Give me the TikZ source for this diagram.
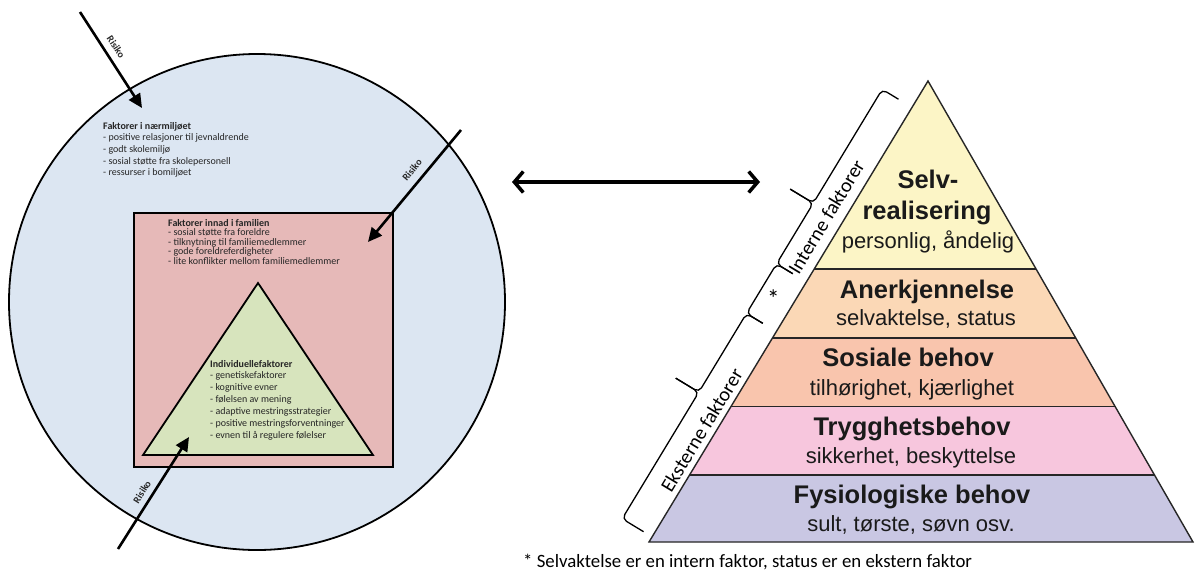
\documentclass[tikz,border=0pt]{standalone}
\usepackage{fontspec}
\setmainfont{Carlito}
\newfontfamily\arialf{Liberation Sans}
\usetikzlibrary{arrows.meta,calc}
\definecolor{circfill}{HTML}{DCE6F2}
\definecolor{boxfill}{HTML}{E6B9B8}
\definecolor{trifill}{HTML}{D7E4BD}
\definecolor{tierA}{HTML}{FCF5C6}
\definecolor{tierB}{HTML}{FBD8B6}
\definecolor{tierC}{HTML}{F9C5AD}
\definecolor{tierD}{HTML}{F7C6DD}
\definecolor{tierE}{HTML}{C9C7E3}
\definecolor{txt}{HTML}{262626}
\definecolor{pyrtxt}{HTML}{1A1A1A}
\tikzset{
  lt/.style={anchor=base west, inner sep=0pt, text=txt, font=\fontsize{10}{12}\selectfont},
  lth/.style={lt, font=\bfseries\fontsize{10}{12}\selectfont},
  riskarrow/.style={line width=2.6pt, -{Triangle[length=14pt,width=13pt]}},
  risklab/.style={inner sep=0pt, text=txt, font=\bfseries\fontsize{10}{12}\selectfont},
  pyrline/.style={draw=black!85, line width=1.4pt},
  pyrhead/.style={anchor=base, inner sep=0pt, text=pyrtxt, font=\arialf\bfseries\fontsize{25.5}{30}\selectfont},
  pyrsub/.style={anchor=base, inner sep=0pt, text=pyrtxt, font=\arialf\fontsize{22}{26}\selectfont},
  bracel/.style={line width=1.3pt, rounded corners=5pt},
  sidelab/.style={anchor=base, inner sep=0pt, font=\fontsize{20}{24}\selectfont},
}
\begin{document}
\begin{tikzpicture}[x=1pt,y=-1pt]
\useasboundingbox (0,0) rectangle (1195,574);
\fill[white] (0,0) rectangle (1195,574);

% ---------- left: protective factors ----------
\node[circle, draw=black, fill=circfill, line width=1.8pt, minimum size=496pt, inner sep=0pt] (env) at (257,302) {};
\node[draw=black, fill=boxfill, line width=1.8pt, minimum width=259pt, minimum height=254pt, anchor=north west, inner sep=0pt] (fam) at (133,212) {};
\coordinate (tA) at (258,283);
\coordinate (tL) at (143,455);
\coordinate (tR) at (373,455);
\draw[fill=trifill, line width=1.8pt, line join=miter] (tA) -- (tR) -- (tL) -- cycle;

% texts in the circle
\node[lth] (c1) at (103,129) {Faktorer i nærmiljøet};
\node[lt] (c2) at (103,140.7) {- positive relasjoner til jevnaldrende};
\node[lt] (c3) at (103,152.4) {- godt skolemiljø};
\node[lt] (c4) at (103,164.1) {- sosial støtte fra skolepersonell};
\node[lt] (c5) at (103,175.8) {- ressurser i bomiljøet};

\node[lth] (f1) at (168,226.3) {Faktorer innad i familien};
\node[lt] (f2) at (168,235.8) {- sosial støtte fra foreldre};
\node[lt] (f3) at (168,245.3) {- tilknytning til familiemedlemmer};
\node[lt] (f4) at (168,254.8) {- gode foreldreferdigheter};
\node[lt] (f5) at (168,264.3) {- lite konflikter mellom familiemedlemmer};

\node[lth] (i1) at (210,367) {Individuellefaktorer};
\node[lt] (i2) at (210,378.9) {- genetiskefaktorer};
\node[lt] (i3) at (210,390.8) {- kognitive evner};
\node[lt] (i4) at (210,402.7) {- følelsen av mening};
\node[lt] (i5) at (210,414.6) {- adaptive mestringsstrategier};
\node[lt] (i6) at (210,426.5) {- positive mestringsforventninger};
\node[lt] (i7) at (210,438.4) {- evnen til å regulere følelser};

% risk arrows
\coordinate (r1s) at (80,12);   \coordinate (r1e) at (142,108);
\coordinate (r2s) at (461,130); \coordinate (r2e) at (368,242);
\coordinate (r3s) at (118,549); \coordinate (r3e) at (189,437);
\draw[riskarrow] (r1s) -- (r1e);
\draw[riskarrow] (r2s) -- (r2e);
\draw[riskarrow] (r3s) -- (r3e);
\node[risklab, rotate=-57.1] (rl1) at (116,47) {Risiko};
\node[risklab, rotate=50.3] (rl2) at (412,170) {Risiko};
\node[risklab, rotate=57.6] (rl3) at (142,492) {Risiko};

% double arrow
\coordinate (dl) at (512,182);
\coordinate (dr) at (760,182);
\draw[line width=3.5pt, {Straight Barb[length=9pt,width=21pt]}-{Straight Barb[length=9pt,width=21pt]}] (dl) -- (dr);

% ---------- right: pyramid ----------
\coordinate (A) at (928,81);
\coordinate (BL) at (649,542);
\coordinate (BR) at (1193,542);
\coordinate (L1) at ($(A)!0.4078!(BL)$); \coordinate (R1) at ($(A)!0.4078!(BR)$);
\coordinate (L2) at ($(A)!0.5575!(BL)$); \coordinate (R2) at ($(A)!0.5575!(BR)$);
\coordinate (L3) at ($(A)!0.7061!(BL)$); \coordinate (R3) at ($(A)!0.7061!(BR)$);
\coordinate (L4) at ($(A)!0.8547!(BL)$); \coordinate (R4) at ($(A)!0.8547!(BR)$);
\fill[tierA] (A) -- (L1) -- (R1) -- cycle;
\fill[tierB] (L1) -- (L2) -- (R2) -- (R1) -- cycle;
\fill[tierC] (L2) -- (L3) -- (R3) -- (R2) -- cycle;
\fill[tierD] (L3) -- (L4) -- (R4) -- (R3) -- cycle;
\fill[tierE] (L4) -- (BL) -- (BR) -- (R4) -- cycle;
\draw[pyrline] (L1) -- (R1) (L2) -- (R2) (L3) -- (R3) (L4) -- (R4);
\draw[pyrline, line join=miter] (A) -- (BL) -- (BR) -- cycle;

\node[pyrhead] (p1a) at (928,188) {Selv-};
\node[pyrhead] (p1b) at (927,219) {realisering};
\node[pyrsub]  (p1c) at (928,248) {personlig, åndelig};
\node[pyrhead] (p2a) at (927,298) {Anerkjennelse};
\node[pyrsub]  (p2b) at (926,325) {selvaktelse, status};
\node[pyrhead] (p3a) at (908,366) {Sosiale behov};
\node[pyrsub]  (p3b) at (912,395) {tilhørighet, kjærlighet};
\node[pyrhead] (p4a) at (912,435.5) {Trygghetsbehov};
\node[pyrsub]  (p4b) at (911,463.5) {sikkerhet, beskyttelse};
\node[pyrhead] (p5a) at (912,503) {Fysiologiske behov};
\node[pyrsub]  (p5b) at (911,531) {sult, tørste, søvn osv.};

% braces along the left edge (local frame: s along edge, t outward)
\begin{scope}[shift={(649,542)}, rotate=58.8, y=1pt]
  \draw[bracel] (304,16) -- (304,35) -- (375,35) -- (375,62);
  \draw[bracel] (508,16) -- (508,35) -- (375,35) -- (375,62);
  \draw[bracel] (246,16) -- (246,35) -- (304,35) -- (304,16);
  \draw[bracel] (6,10) -- (6,35) -- (154,35) -- (154,62);
  \draw[bracel] (246,16) -- (246,35) -- (154,35) -- (154,62);
  \node[sidelab, rotate=58.8] (intl) at (370,10) {Interne faktorer};
  \node[sidelab, rotate=58.8] (extl) at (123,6) {Eksterne faktorer};
  \node[inner sep=0pt, font=\fontsize{25}{28}\selectfont] (star) at (273,20) {*};
\end{scope}

\node[anchor=base west, inner sep=0pt, font=\fontsize{18.8}{22}\selectfont] (foot) at (523,567) {* Selvaktelse er en intern faktor, status er en ekstern faktor};
\end{tikzpicture}
\end{document}
